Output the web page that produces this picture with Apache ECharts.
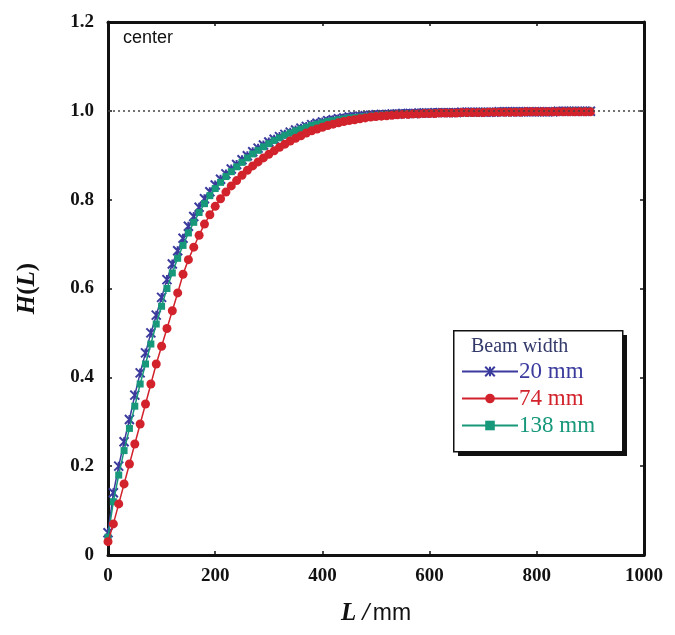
<!DOCTYPE html>
<html>
<head>
<meta charset="utf-8">
<script src="https://cdn.jsdelivr.net/npm/echarts@6/dist/echarts.min.js"></script>
<style>
  html, body { margin: 0; padding: 0; background: #fff; }
  #chart { width: 675px; height: 635px; }
</style>
</head>
<body>
<div id="chart"></div>
<script>
// Path length L (mm) at which H(L) was sampled
const lengths = [
  0, 10, 20, 30, 40, 50, 60, 70, 80, 90,
  100, 110, 120, 130, 140, 150, 160, 170, 180, 190,
  200, 210, 220, 230, 240, 250, 260, 270, 280, 290,
  300, 310, 320, 330, 340, 350, 360, 370, 380, 390,
  400, 410, 420, 430, 440, 450, 460, 470, 480, 490,
  500, 510, 520, 530, 540, 550, 560, 570, 580, 590,
  600, 610, 620, 630, 640, 650, 660, 670, 680, 690,
  700, 710, 720, 730, 740, 750, 760, 770, 780, 790,
  800, 810, 820, 830, 840, 850, 860, 870, 880, 890,
  900
];

// H(L) for the 20 mm beam
const beam20 = [
  0.05, 0.14, 0.20, 0.255, 0.305, 0.36, 0.41, 0.455, 0.50, 0.54,
  0.58, 0.62, 0.655, 0.685, 0.713, 0.74, 0.762, 0.783, 0.802, 0.818,
  0.833, 0.846, 0.858, 0.869, 0.879, 0.890, 0.899, 0.908, 0.916, 0.923,
  0.930, 0.936, 0.942, 0.947, 0.952, 0.957, 0.961, 0.965, 0.969, 0.972,
  0.975, 0.978, 0.980, 0.982, 0.984, 0.986, 0.987, 0.988, 0.989, 0.990,
  0.991, 0.992, 0.992, 0.993, 0.993, 0.994, 0.994, 0.994, 0.995, 0.995,
  0.995, 0.996, 0.996, 0.996, 0.996, 0.996, 0.997, 0.997, 0.997, 0.997,
  0.997, 0.997, 0.997, 0.998, 0.998, 0.998, 0.998, 0.998, 0.998, 0.998,
  0.998, 0.998, 0.998, 0.998, 0.999, 0.999, 0.999, 0.999, 0.999, 0.999,
  0.999
];

// H(L) for the 74 mm beam
const beam74 = [
  0.03, 0.07, 0.115, 0.16, 0.205, 0.25, 0.295, 0.34, 0.385, 0.43,
  0.47, 0.51, 0.55, 0.59, 0.632, 0.665, 0.693, 0.72, 0.745, 0.766,
  0.785, 0.802, 0.817, 0.831, 0.843, 0.855, 0.866, 0.876, 0.885, 0.894,
  0.902, 0.910, 0.918, 0.925, 0.932, 0.938, 0.944, 0.950, 0.955, 0.959,
  0.963, 0.967, 0.970, 0.973, 0.976, 0.978, 0.980, 0.982, 0.984, 0.986,
  0.987, 0.988, 0.989, 0.990, 0.991, 0.992, 0.992, 0.993, 0.993, 0.994,
  0.994, 0.994, 0.995, 0.995, 0.995, 0.995, 0.996, 0.996, 0.996, 0.996,
  0.996, 0.997, 0.997, 0.997, 0.997, 0.997, 0.997, 0.997, 0.998, 0.998,
  0.998, 0.998, 0.998, 0.998, 0.998, 0.998, 0.998, 0.998, 0.998, 0.998,
  0.998
];

// H(L) for the 138 mm beam
const beam138 = [
  0.04, 0.12, 0.18, 0.235, 0.285, 0.335, 0.385, 0.43, 0.475, 0.52,
  0.56, 0.60, 0.635, 0.668, 0.697, 0.725, 0.749, 0.771, 0.791, 0.809,
  0.825, 0.839, 0.852, 0.863, 0.874, 0.884, 0.894, 0.903, 0.911, 0.919,
  0.926, 0.933, 0.939, 0.945, 0.950, 0.955, 0.959, 0.963, 0.967, 0.970,
  0.973, 0.976, 0.978, 0.980, 0.982, 0.984, 0.985, 0.986, 0.987, 0.988,
  0.989, 0.990, 0.991, 0.991, 0.992, 0.992, 0.993, 0.993, 0.994, 0.994,
  0.994, 0.995, 0.995, 0.995, 0.995, 0.996, 0.996, 0.996, 0.996, 0.996,
  0.997, 0.997, 0.997, 0.997, 0.997, 0.997, 0.998, 0.998, 0.998, 0.998,
  0.998, 0.998, 0.998, 0.998, 0.998, 0.998, 0.999, 0.999, 0.999, 0.999,
  0.999
];

const seriesNames = ['20 mm', '74 mm', '138 mm'];
const xTicks = [0, 200, 400, 600, 800, 1000];
const yTicks = [0, 0.2, 0.4, 0.6, 0.8, 1.0, 1.2];

const BLUE = '#3b3b9e';
const RED = '#d2232c';
const GREEN = '#17987a';
const SERIF = '"Liberation Serif", "DejaVu Serif", serif';
const SANS = '"Liberation Sans", Arial, sans-serif';

const pairs = vals => lengths.map((l, i) => [l, vals[i]]);

const tickLabel = { fontFamily: SERIF, fontWeight: 'bold', fontSize: 19, color: '#111' };
const boxLine = { show: true, onZero: false, lineStyle: { color: '#111', width: 3 } };
const inTick = { show: true, inside: true, length: 4, lineStyle: { color: '#111', width: 1.5 } };

const chart = echarts.init(document.getElementById('chart'), null, { renderer: 'canvas' });

chart.setOption({
  animation: false,
  backgroundColor: '#fff',
  grid: { left: 108, right: 31, top: 22, bottom: 80 },
  xAxis: [
    {
      type: 'value', min: 0, max: 1000, interval: 200, position: 'bottom',
      axisLine: boxLine, axisTick: inTick, splitLine: { show: false },
      axisLabel: Object.assign({ margin: 12, formatter: v => xTicks.includes(v) ? String(v) : '' }, tickLabel),
      name: '{i|L /} {s|mm}', nameLocation: 'middle', nameGap: 46,
      nameTextStyle: {
        rich: {
          i: { fontFamily: SERIF, fontStyle: 'italic', fontWeight: 'bold', fontSize: 25, color: '#111' },
          s: { fontFamily: SANS, fontSize: 23, color: '#111' }
        }
      }
    },
    {
      type: 'value', min: 0, max: 1000, interval: 200, position: 'top',
      axisLine: boxLine, axisTick: inTick, axisLabel: { show: false }, splitLine: { show: false }
    }
  ],
  yAxis: [
    {
      type: 'value', min: 0, max: 1.2, interval: 0.2, position: 'left',
      axisLine: boxLine, axisTick: inTick, splitLine: { show: false },
      axisLabel: Object.assign({
        margin: 14,
        formatter: v => {
          const t = yTicks.find(y => Math.abs(y - v) < 1e-6);
          if (t === undefined) return '';
          return t === 0 ? '0' : t.toFixed(1);
        }
      }, tickLabel),
      name: '{i|H}({i|L})', nameLocation: 'middle', nameGap: 68, nameRotate: 90,
      nameTextStyle: {
        fontFamily: SERIF, fontWeight: 'bold', fontSize: 25, color: '#111',
        rich: {
          i: { fontFamily: SERIF, fontStyle: 'italic', fontWeight: 'bold', fontSize: 25, color: '#111' }
        }
      }
    },
    {
      type: 'value', min: 0, max: 1.2, interval: 0.2, position: 'right',
      axisLine: boxLine, axisTick: inTick, axisLabel: { show: false }, splitLine: { show: false }
    }
  ],
  legend: {
    orient: 'vertical',
    left: 461, top: 360,
    padding: 0,
    itemGap: 4,
    itemWidth: 56, itemHeight: 12,
    textStyle: { fontFamily: SERIF, fontSize: 23, padding: [0, 0, 0, -4] },
    data: [
      { name: seriesNames[0], textStyle: { color: BLUE } },
      { name: seriesNames[1], textStyle: { color: RED } },
      { name: seriesNames[2], textStyle: { color: GREEN } }
    ]
  },
  graphic: [
    {
      type: 'text', left: 123, top: 29, z: 100,
      style: { text: 'center', font: '18px ' + SANS, fill: '#111' }
    },
    // legend frame with a drop shadow
    {
      type: 'rect', left: 458, top: 335, z: -1,
      shape: { width: 169, height: 121 },
      style: { fill: '#111' }
    },
    {
      type: 'rect', left: 453, top: 330, z: -1,
      shape: { width: 169, height: 121 },
      style: { fill: '#fff', stroke: '#111', lineWidth: 1.5 }
    },
    {
      type: 'text', left: 471, top: 337, z: 100,
      style: { text: 'Beam width', font: '20px ' + SERIF, fill: '#333a6a' }
    }
  ],
  series: [
    {
      name: seriesNames[0], type: 'line', data: pairs(beam20), z: 2,
      symbol: 'path://M0,0L10,10M10,0L0,10M5,0L5,10', symbolSize: 9,
      lineStyle: { color: BLUE, width: 1.5 },
      itemStyle: { color: BLUE, borderColor: BLUE, borderWidth: 2 },
      markLine: {
        silent: true, symbol: 'none', label: { show: false },
        lineStyle: { color: '#444', type: [2, 3], width: 1.5 },
        data: [{ yAxis: 1 }]
      }
    },
    {
      name: seriesNames[2], type: 'line', data: pairs(beam138), z: 3,
      symbol: 'rect', symbolSize: 7,
      lineStyle: { color: GREEN, width: 1.5 },
      itemStyle: { color: GREEN }
    },
    {
      name: seriesNames[1], type: 'line', data: pairs(beam74), z: 4,
      symbol: 'circle', symbolSize: 9,
      lineStyle: { color: RED, width: 1.5 },
      itemStyle: { color: RED }
    }
  ]
});
</script>
</body>
</html>
